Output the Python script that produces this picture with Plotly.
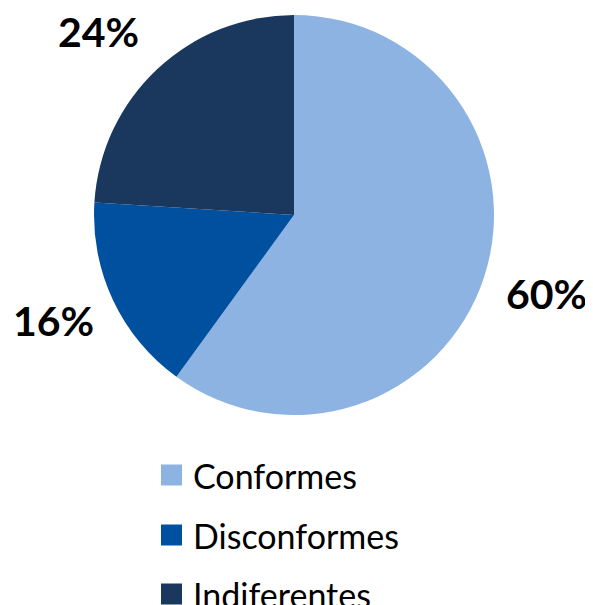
import plotly.graph_objects as go

categories = ["Conformes", "Disconformes", "Indiferentes"]
values = [60, 16, 24]
colors = ["#8DB3E2", "#0050A0", "#1A375E"]

W, H = 593, 605
OFF = 8  # page body margin
FW, FH = W - OFF, H - OFF
FONT = "Lato"


def fx(px):
    return (px - OFF) / FW


def fy(py):
    return 1 - (py - OFF) / FH


fig = go.Figure()
fig.add_trace(go.Pie(
    labels=categories,
    values=values,
    sort=False,
    direction="clockwise",
    rotation=0,
    marker=dict(colors=colors, line=dict(width=0)),
    textinfo="none",
    hoverinfo="label+percent",
    showlegend=False,
    domain=dict(x=[fx(94), fx(494)], y=[fy(415), fy(15)]),
))

total = sum(values)
label_pos = [(546, 293), (53, 320), (98, 31)]
annotations = []
for v, (px, py) in zip(values, label_pos):
    annotations.append(dict(
        x=fx(px), y=fy(py), xref="paper", yref="paper",
        text=f"<b>{round(100 * v / total)}%</b>", showarrow=False,
        font=dict(family=FONT, size=41, color="#000000"),
        xanchor="center", yanchor="middle",
    ))

shapes = []
legend_y = [475, 535, 594]
for cat, col, ly in zip(categories, colors, legend_y):
    shapes.append(dict(
        type="rect", xref="paper", yref="paper",
        x0=fx(161), x1=fx(182), y0=fy(ly + 10.5), y1=fy(ly - 10.5),
        fillcolor=col, line=dict(width=0),
    ))
    annotations.append(dict(
        x=fx(191), y=fy(ly), xref="paper", yref="paper",
        text=cat, showarrow=False,
        font=dict(family=FONT, size=34, color="#000000"),
        xanchor="left", yanchor="middle",
    ))

fig.update_layout(
    width=FW, height=FH,
    margin=dict(l=0, r=0, t=0, b=0),
    paper_bgcolor="white", plot_bgcolor="white",
    annotations=annotations, shapes=shapes,
)

fig.write_html("out.html")
